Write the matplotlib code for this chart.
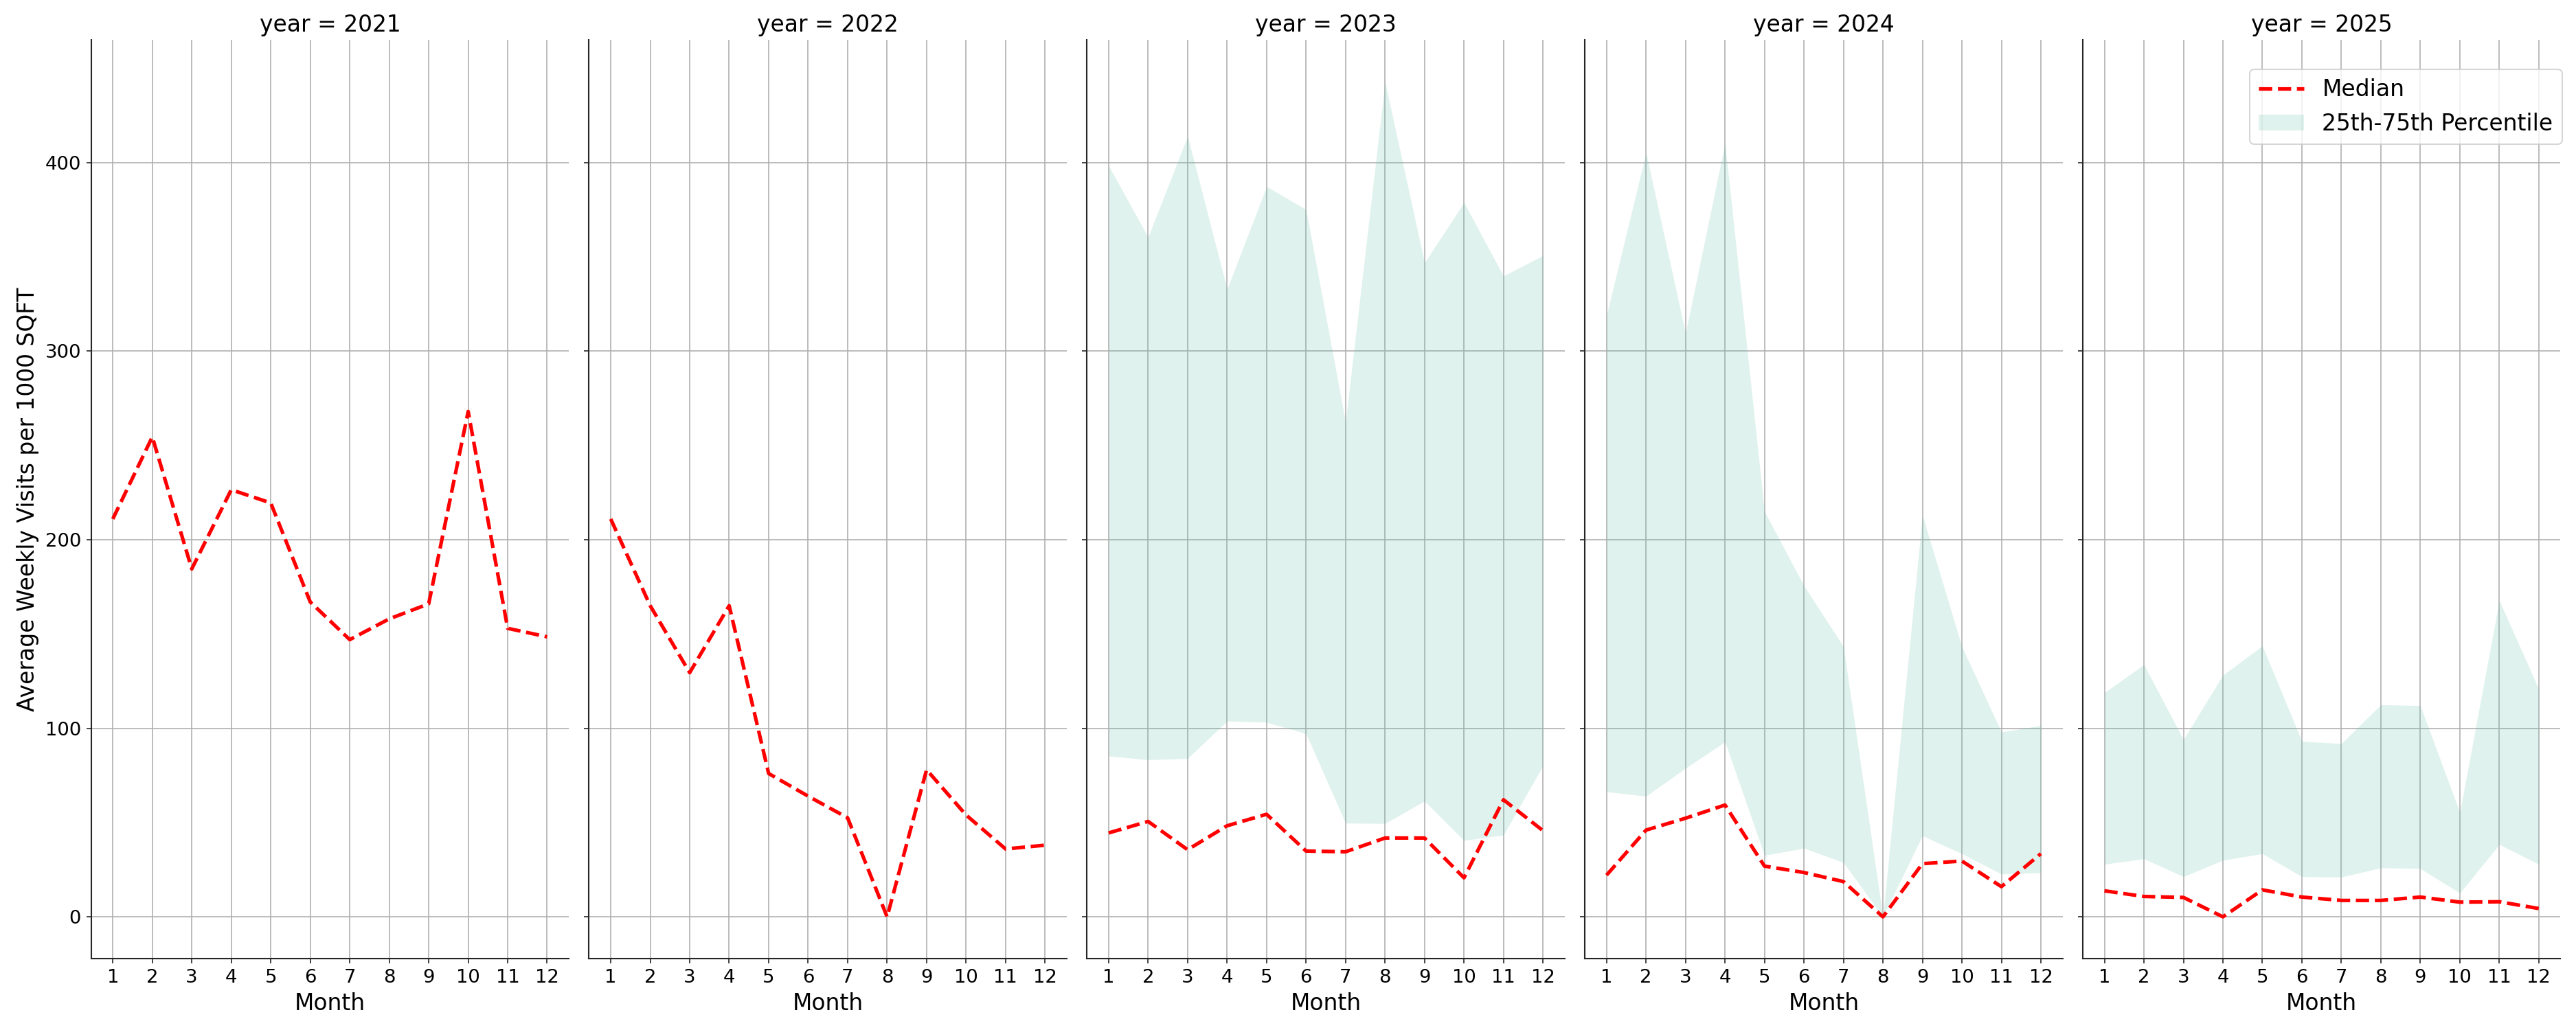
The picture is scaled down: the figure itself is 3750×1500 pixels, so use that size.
import matplotlib
matplotlib.use("Agg")
import matplotlib.pyplot as plt
import numpy as np
from matplotlib.lines import Line2D
from matplotlib.patches import Patch

months = list(range(1, 13))
years = [2021, 2022, 2023, 2024, 2025]

median_2021 = [211, 254.5, 184.5, 226.5, 219.5, 167, 147, 158, 166, 268, 153, 148.5]
median_2022 = [211, 165, 129.5, 165, 76, 64, 52.5, 0, 78, 54, 36, 38]
median_2023 = [44.5, 50.6, 35.6, 48.3, 54.4, 34.9, 34.5, 41.8, 41.8, 20.7, 62.1, 45.7]
median_2024 = [22.1, 46, 52.3, 59.3, 26.9, 23.5, 18.7, 0, 28.2, 29.6, 16, 33.5]
median_2025 = [13.8, 10.8, 10.3, 0, 14.3, 10.5, 8.7, 8.7, 10.5, 7.8, 8, 4.4]

p25_2023 = [85.3, 83.3, 84, 103.8, 103.2, 97.1, 49.7, 49.5, 61.4, 40.5, 43.4, 80.2]
p75_2023 = [398.3, 360.5, 414, 332.9, 387.3, 375.1, 262.3, 442.8, 346.9, 378.8, 339.9, 350.7]
p25_2024 = [66.3, 64, 78.8, 92.8, 32.6, 36.4, 28.8, 0, 43, 33.5, 22.7, 23.4]
p75_2024 = [319, 405.3, 309.4, 410.5, 215, 175.6, 143.3, 0, 213, 143.3, 98, 101.5]
p25_2025 = [27.9, 30.8, 21.3, 30, 33.5, 21.3, 21.1, 26, 25.6, 12.6, 38.4, 27.9]
p75_2025 = [118.9, 133.8, 94, 128.2, 143.7, 93.1, 91.9, 112.5, 112, 55.3, 167.8, 120.7]

medians = [median_2021, median_2022, median_2023, median_2024, median_2025]
p25s = [None, None, p25_2023, p25_2024, p25_2025]
p75s = [None, None, p75_2023, p75_2024, p75_2025]

TICK = 13.2
LARGE = 15.8
SPINE = "#262626"
FILL = "#66c2a5"

fig = plt.figure(figsize=(25, 10), dpi=150)
left0, width, pitch = 0.03536, 0.18547, 0.19329
bottom, height = 0.06933, 0.89173

axes = []
for i, yr in enumerate(years):
    ax = fig.add_axes([left0 + i * pitch, bottom, width, height],
                      sharey=axes[0] if axes else None)
    axes.append(ax)
    ax.set_axisbelow(True)
    ax.grid(True, color="#b0b0b0", linewidth=0.8)
    if p25s[i] is not None:
        ax.fill_between(months, p25s[i], p75s[i], color=FILL, alpha=0.2,
                        linewidth=0, label="25th-75th Percentile")
    ax.plot(months, medians[i], color="red", linestyle="--", linewidth=2.5,
            label="Median")
    ax.set_xticks(months)
    ax.set_title(f"year = {yr}", fontsize=LARGE)
    ax.set_xlabel("Month", fontsize=LARGE)
    for s in ["top", "right"]:
        ax.spines[s].set_visible(False)
    for s in ["left", "bottom"]:
        ax.spines[s].set_color(SPINE)
        ax.spines[s].set_linewidth(1.0)
    ax.tick_params(axis="both", labelsize=TICK, colors=SPINE, labelcolor="black")
    if i > 0:
        ax.tick_params(axis="y", labelleft=False)

axes[0].set_ylabel("Average Weekly Visits per 1000 SQFT", fontsize=LARGE)
axes[0].set_yticks([0, 100, 200, 300, 400])

handles = [Line2D([0], [0], color="red", linestyle="--", linewidth=2.5),
           Patch(facecolor=FILL, alpha=0.2, edgecolor="none")]
axes[-1].legend(handles, ["Median", "25th-75th Percentile"], fontsize=LARGE,
                loc="upper right", bbox_to_anchor=(1.003, 0.968), borderaxespad=0)

fig.savefig("out.png", dpi=150)
